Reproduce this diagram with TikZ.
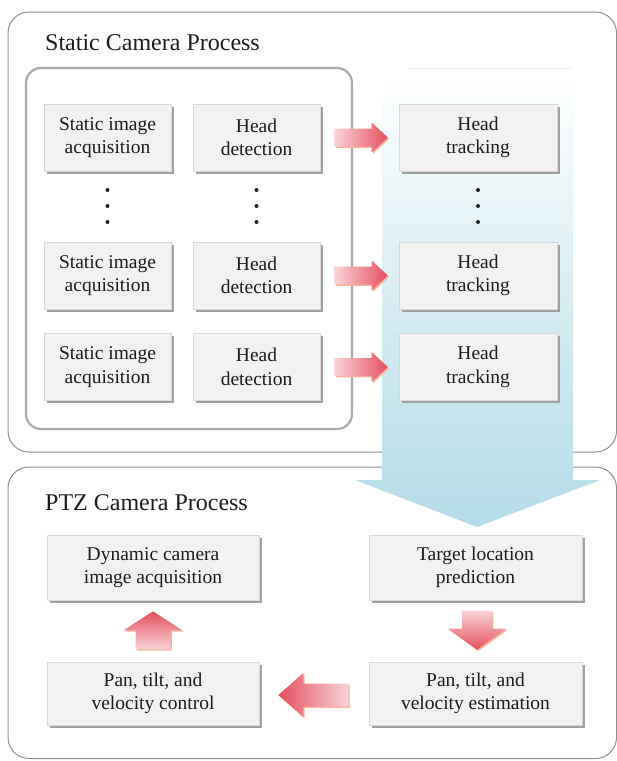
\documentclass[tikz,border=0pt]{standalone}
\usepackage{fontspec}
\setmainfont{Liberation Serif}
\usetikzlibrary{calc,shadows}

\definecolor{boxfill}{HTML}{F2F2F2}
\definecolor{boxline}{HTML}{D8D8D8}
\definecolor{boxshadow}{HTML}{A0A0A0}
\definecolor{frameline}{HTML}{8E8E8E}
\definecolor{innerline}{HTML}{ABABAB}
\definecolor{arrowred}{HTML}{E4505F}
\definecolor{arrowpink}{HTML}{F9D2D7}
\definecolor{arrowrim}{HTML}{F3B69E}
\definecolor{flowblue}{HTML}{B3DBE7}
\definecolor{txt}{HTML}{1C1C1C}

\tikzset{
  proc/.style={rectangle, fill=boxfill, draw=boxline, line width=0.6pt,
    text=txt, align=center, inner sep=0pt,
    font=\fontsize{19.5}{23.5}\selectfont,
    drop shadow={shadow xshift=2.6pt, shadow yshift=-2.6pt, fill=boxshadow, opacity=1}},
  small/.style={proc, minimum width=127pt, minimum height=67pt},
  track/.style={proc, minimum width=158pt, minimum height=67pt},
  wide/.style={proc, minimum width=212pt, minimum height=65pt},
  frame/.style={draw=frameline, line width=1pt, rounded corners=21pt},
  title/.style={anchor=base west, text=txt, inner sep=0pt,
    font=\fontsize{24}{28}\selectfont},
  dotmark/.style={fill=txt}
}

% fat arrow pointing right, tip at the given point
\newcommand\rightblock[1]{%
  \begin{scope}[shift={#1}]
    \fill[arrowrim, xshift=1.4pt, yshift=-1.4pt]
      (0,0) -- (-16,-15) -- (-16,-9) -- (-53,-9) -- (-53,9) -- (-16,9) -- (-16,15) -- cycle;
    \shade[left color=arrowpink, right color=arrowred]
      (0,0) -- (-16,-15) -- (-16,-9) -- (-53,-9) -- (-53,9) -- (-16,9) -- (-16,15) -- cycle;
  \end{scope}}

\begin{document}
\begin{tikzpicture}[x=1pt, y=-1pt]
  \useasboundingbox (0,0) rectangle (617,761);

  % process frames
  \draw[frame] (8,12) rectangle (616.5,452);
  \draw[frame] (8,467) rectangle (616.5,758.5);
  \node[title] (t1) at (45,50) {Static Camera Process};
  \node[title] (t2) at (45,510) {PTZ Camera Process};

  % group of static camera units
  \draw[innerline, line width=2.2pt, rounded corners=15pt] (26,68) rectangle (352,429);

  % wide flow arrow into the PTZ process
  \shade[top color=white, bottom color=flowblue]
    (382,68) -- (573,68) -- (573,480) -- (600,480) -- (477,527) -- (355,480) -- (382,480) -- cycle;
  \draw[black!7, line width=0.6pt] (408,68) -- (573,68);

  % static camera rows
  \node[small] (sa1) at (107.5,137.5) {Static image\\acquisition};
  \node[small] (hd1) at (256.5,137.5) {Head\\detection};
  \node[track] (ht1) at (478,137.5) {Head\\tracking};

  \node[small] (sa2) at (107.5,275.5) {Static image\\acquisition};
  \node[small] (hd2) at (256.5,275.5) {Head\\detection};
  \node[track] (ht2) at (478,275.5) {Head\\tracking};

  \node[small] (sa3) at (107.5,367) {Static image\\acquisition};
  \node[small] (hd3) at (256.5,367) {Head\\detection};
  \node[track] (ht3) at (478,367) {Head\\tracking};

  % vertical ellipses
  \foreach \cx in {107.5,256.5,478}
    \foreach \cy in {190,206,222}
      \fill[dotmark] (\cx,\cy) circle (2pt);

  % detection to tracking
  \rightblock{($(ht1.west)+(-11,0)$)}
  \rightblock{($(ht2.west)+(-11,0)$)}
  \rightblock{($(ht3.west)+(-11,0)$)}

  % PTZ camera loop
  \node[wide] (dyn) at (153,567.5) {Dynamic camera\\image acquisition};
  \node[wide, minimum width=213pt] (tlp) at (475.5,567.5) {Target location\\prediction};
  \node[wide, minimum height=63pt] (ctl) at (153,693.5) {Pan, tilt, and\\velocity control};
  \node[wide, minimum width=213pt, minimum height=63pt] (est) at (475.5,693.5) {Pan, tilt, and\\velocity estimation};

  % prediction to estimation (down)
  \begin{scope}[shift={($(est.north)+(1.5,-12)$)}]
    \fill[arrowrim, xshift=1.4pt, yshift=-1.4pt]
      (0,0) -- (-29,-21) -- (-15,-21) -- (-15,-39) -- (15,-39) -- (15,-21) -- (29,-21) -- cycle;
    \shade[top color=arrowpink, bottom color=arrowred]
      (0,0) -- (-29,-21) -- (-15,-21) -- (-15,-39) -- (15,-39) -- (15,-21) -- (29,-21) -- cycle;
  \end{scope}

  % estimation to control (left)
  \begin{scope}[shift={($(ctl.east)+(19,1.5)$)}]
    \fill[arrowrim, xshift=1.4pt, yshift=-1.4pt]
      (0,0) -- (25,-22) -- (25,-11.5) -- (70,-11.5) -- (70,11.5) -- (25,11.5) -- (25,22) -- cycle;
    \shade[left color=arrowred, right color=arrowpink]
      (0,0) -- (25,-22) -- (25,-11.5) -- (70,-11.5) -- (70,11.5) -- (25,11.5) -- (25,22) -- cycle;
  \end{scope}

  % control to acquisition (up)
  \begin{scope}[shift={($(dyn.south)+(0,11)$)}]
    \fill[arrowrim, xshift=1.4pt, yshift=-1.4pt]
      (0,0) -- (-29.5,19) -- (-17.5,19) -- (-17.5,38) -- (17.5,38) -- (17.5,19) -- (29.5,19) -- cycle;
    \shade[top color=arrowred, bottom color=arrowpink]
      (0,0) -- (-29.5,19) -- (-17.5,19) -- (-17.5,38) -- (17.5,38) -- (17.5,19) -- (29.5,19) -- cycle;
  \end{scope}
\end{tikzpicture}
\end{document}
